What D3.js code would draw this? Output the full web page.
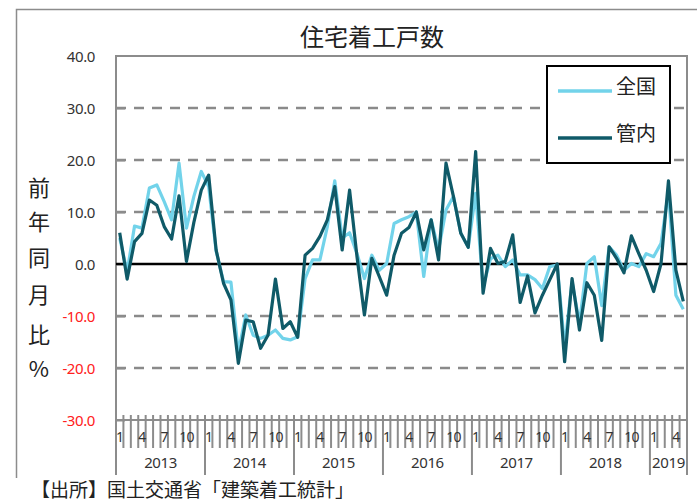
<!DOCTYPE html>
<html><head><meta charset="utf-8">
<script src="https://cdn.jsdelivr.net/npm/d3@7"></script>
<style>
body{margin:0;background:#fff;}
svg{display:block;font-family:"Noto Sans CJK JP","Noto Sans",sans-serif;}
</style></head>
<body><svg id="c" width="697" height="502"></svg>
<script>
const years = [2013, 2014, 2015, 2016, 2017, 2018, 2019];
const monthsPerYear = [12, 12, 12, 12, 12, 12, 5];
const monthTickLabels = [1, 4, 7, 10];
const yTicks = [40, 30, 20, 10, 0, -10, -20, -30];
const seriesNames = ["全国", "管内"];
const zenkoku = [
  5, -1.5, 7.3, 6.9, 14.6, 15.2, 12, 8.5, 19.4, 6.9, 13, 17.8,
  14.9, 2.5, -3.4, -3.5, -17, -9.8, -13.7, -14.3, -13.7, -12.7, -14.3, -14.6,
  -14, -2.8, 0.8, 0.8, 7.2, 16, 5, 6, 2, -2.8, 1.7, -1.2,
  0.1, 7.8, 8.5, 9.1, 10, -2.4, 8.5, 2.7, 10.4, 13, 5.9, 3.2,
  13.6, -4.4, 1, 1.7, -0.5, 0.8, -2.1, -2.1, -3, -4.7, -0.5, -0.2,
  -16, -3.4, -11.4, 0.1, 1.4, -8, 3.3, 1.7, -1.2, 0.1, -0.5, 2,
  1.4, 4, 14, -6, -8.7
];
const kannai = [
  6, -2.9, 4.3, 5.9, 12.3, 11.3, 7.2, 4.8, 13.1, 0.5, 8, 14.2,
  17.1, 2.7, -3.7, -6.9, -19.1, -10.8, -11.1, -16.2, -13.7, -2.9, -12.4, -11.1,
  -14.1, 1.7, 3, 5.3, 8.5, 14.9, 2.7, 14.2, 1.4, -9.8, 1.1, -2.4,
  -6, 1.7, 5.9, 7, 10, 2.7, 8.5, 0.8, 19.4, 13, 5.9, 3.2,
  21.6, -5.6, 3, 0.1, 0.5, 5.6, -7.4, -2.3, -9.4, -6, -3, 0,
  -18.8, -2.8, -12.7, -3.6, -6, -14.7, 3.3, 1.1, -1.7, 5.4, 2, -1.2,
  -5.3, 0.1, 16, -1.2, -7.2
];

const cats = [];
years.forEach((y, yi) => { for (let m = 1; m <= monthsPerYear[yi]; m++) cats.push({year: y, month: m}); });

const svg = d3.select("#c");
const L = 116, R = 687, T = 56, B = 420;
const x = d3.scaleBand().domain(d3.range(cats.length)).range([L, R]).padding(0);
const cx = i => x(i) + x.bandwidth() / 2;
const y = d3.scaleLinear().domain([-30, 40]).range([B, T]);
const numFont = "'Noto Sans', sans-serif";

// outer frame (left & top)
svg.append("path").attr("d", `M16.5,478 V9.5 H697`).attr("fill", "none").attr("stroke", "#8c8c8c").attr("stroke-width", 1.5);

// title
svg.append("text").attr("x", 372).attr("y", 46).attr("text-anchor", "middle")
  .attr("font-size", 24).attr("fill", "#222").text("住宅着工戸数");

// gridlines
svg.append("g").selectAll("line").data(yTicks.filter(v => v !== 40 && v !== -30 && v !== 0)).join("line")
  .attr("x1", L).attr("x2", R).attr("y1", d => y(d)).attr("y2", d => y(d))
  .attr("stroke", "#8a8a8a").attr("stroke-width", 2.5).attr("stroke-dasharray", "10,8");

// plot border
svg.append("path").attr("d", `M${L},475 V${T} H${R} V475`).attr("fill", "none").attr("stroke", "#8c8c8c").attr("stroke-width", 2);

// y axis ticks
const yAxis = d3.axisRight(y).tickValues(yTicks.filter(v => v !== 40)).tickSize(9).tickFormat("");
const gy = svg.append("g").attr("transform", `translate(${L},0)`).call(yAxis);
gy.select(".domain").remove();
gy.selectAll("line").attr("stroke", "#8c8c8c").attr("stroke-width", 2);

// y labels
svg.append("g").selectAll("text").data(yTicks).join("text")
  .attr("x", 95).attr("y", d => y(d) + 5.5).attr("text-anchor", "end")
  .attr("font-family", numFont).attr("font-size", 15).attr("letter-spacing", -0.4)
  .attr("fill", d => d < 0 ? "#ff2020" : "#333").text(d => d.toFixed(1));

// y title vertical
const ytitle = "前年同月比%".split("");
const ty = [188, 222, 258, 295, 335, 369];
svg.append("g").selectAll("text").data(ytitle).join("text")
  .attr("x", 39).attr("y", (d, i) => ty[i] + 8).attr("text-anchor", "middle")
  .attr("font-size", 22).attr("fill", "#222").text(d => d);

// x axis line and month ticks
svg.append("line").attr("x1", L).attr("x2", R).attr("y1", B).attr("y2", B).attr("stroke", "#8c8c8c").attr("stroke-width", 2);
svg.append("g").selectAll("line").data(d3.range(cats.length + 1)).join("line")
  .attr("x1", i => i < cats.length ? x(i) : R).attr("x2", i => i < cats.length ? x(i) : R)
  .attr("y1", 415).attr("y2", i => (i === cats.length || cats[i].month === 1) ? 475 : 448)
  .attr("stroke", "#8c8c8c").attr("stroke-width", 2);

// month labels
svg.append("g").selectAll("text").data(cats.map((c, i) => ({c, i})).filter(d => monthTickLabels.includes(d.c.month))).join("text")
  .attr("x", d => cx(d.i)).attr("y", 442).attr("text-anchor", "middle")
  .attr("font-family", numFont).attr("font-size", 14).attr("letter-spacing", -0.8)
  .attr("fill", "#333").text(d => d.c.month);

// year labels
let start = 0;
const yearPos = years.map((yr, yi) => { const s = start; start += monthsPerYear[yi]; return {yr, s, e: start}; });
svg.append("g").selectAll("text").data(yearPos).join("text")
  .attr("x", d => (x(d.s) + (d.e < cats.length ? x(d.e) : R)) / 2).attr("y", 468).attr("text-anchor", "middle")
  .attr("font-family", numFont).attr("font-size", 15).attr("letter-spacing", -0.4)
  .attr("fill", "#333").text(d => d.yr);

// zero line
svg.append("line").attr("x1", L).attr("x2", R).attr("y1", y(0)).attr("y2", y(0)).attr("stroke", "#000").attr("stroke-width", 2.5);

// series lines
const colors = ["#72d3ea", "#0f5a68"];
const line = d3.line().x((d, i) => cx(i)).y(d => y(d));
[zenkoku, kannai].forEach((s, k) => {
  svg.append("path").datum(s).attr("d", line).attr("fill", "none")
    .attr("stroke", colors[k]).attr("stroke-width", 3.2).attr("stroke-linejoin", "round");
});

// legend
const lg = svg.append("g");
lg.append("rect").attr("x", 547).attr("y", 66).attr("width", 123).attr("height", 97)
  .attr("fill", "#fff").attr("stroke", "#000").attr("stroke-width", 2);
seriesNames.forEach((n, k) => {
  const ly = 91 + k * 47;
  lg.append("line").attr("x1", 558).attr("x2", 612).attr("y1", ly).attr("y2", ly)
    .attr("stroke", colors[k]).attr("stroke-width", 3.5);
  lg.append("text").attr("x", 616).attr("y", ly + 3).attr("font-size", 20).attr("fill", "#222").text(n);
});

// source
svg.append("text").attr("x", 31).attr("y", 497).attr("font-size", 19).attr("fill", "#222")
  .text("【出所】国土交通省「建築着工統計」");
</script></body></html>
